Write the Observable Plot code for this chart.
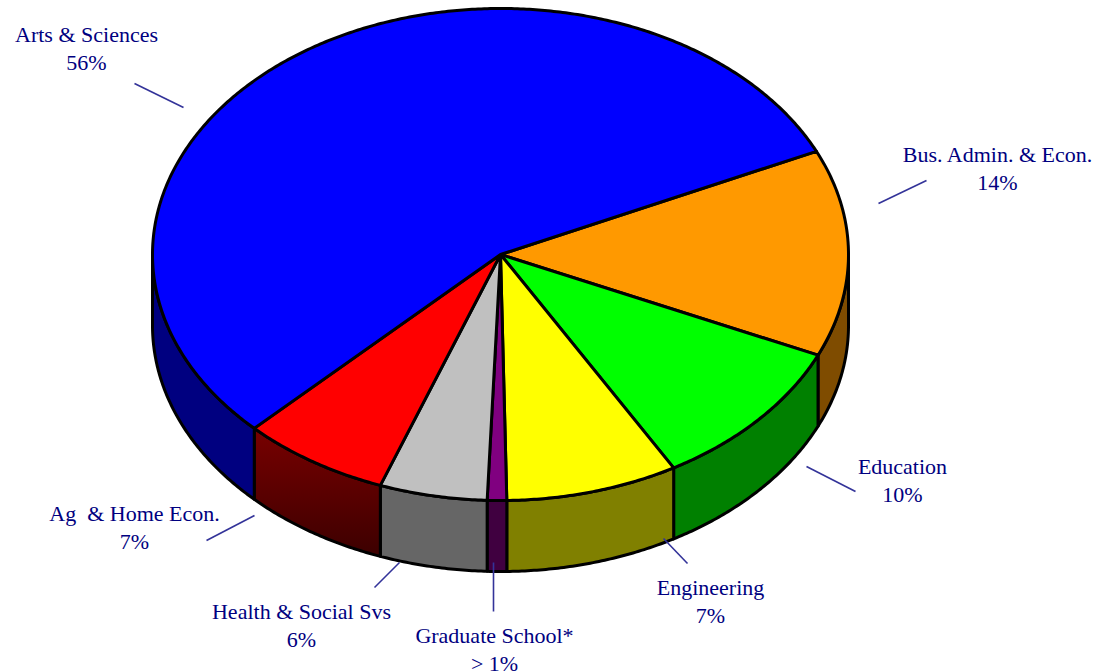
<!DOCTYPE html>
<html>
<head>
<meta charset="utf-8">
<script src="https://cdn.jsdelivr.net/npm/d3@7"></script>
<script src="https://cdn.jsdelivr.net/npm/@observablehq/plot@0.6"></script>
<style>
html,body{margin:0;padding:0;background:#fff;overflow:hidden}
svg{display:block}
</style>
</head>
<body>
<div id="chart"></div>
<script>
// Data, clockwise from the Arts / Business boundary
const categories = ["Bus. Admin. & Econ.", "Education", "Engineering", "Graduate School*", "Health & Social Svs", "Ag  & Home Econ.", "Arts & Sciences"];
const percentLabels = ["14%", "10%", "7%", "> 1%", "6%", "7%", "56%"];
const shares = [13.6, 10, 8, 0.9, 5, 6.9, 55.6];
const topColors = ["#ff9900", "#00ff00", "#ffff00", "#800080", "#c0c0c0", "#ff0000", "#0000ff"];
const sideColors = ["#7f4c00", "#008000", "#808000", "#400040", "#666666", "url(#agSide)", "#000080"];

// Layout of the disc and annotations (pixels of the frame)
const disc = {cx: 500, cy: 254, rx: 348, ry: 246, depth: 71, start: -24.8};
const labelX = [997, 902, 710, 494, 301, 134, 86];
const labelBaseline = [189, 501, 622, 670, 646, 548, 69];
const leaderX1 = [926, 806, 663, 493, 399, 254, 134];
const leaderY1 = [180, 466, 538, 562, 562, 515, 83];
const leaderX2 = [878, 855, 687, 493, 374, 206, 183];
const leaderY2 = [203, 491, 563, 611, 587, 540, 107];

const rad = Math.PI / 180;
const rimPoint = (t, drop = 0) => ({
  x: disc.cx + disc.rx * Math.cos(t * rad),
  y: disc.cy + disc.ry * Math.sin(t * rad) + drop
});
const arc = (a, b, drop = 0) => {
  const n = Math.max(2, Math.ceil(Math.abs(b - a) / 0.5));
  return d3.range(n + 1).map(i => rimPoint(a + (b - a) * i / n, drop));
};

let acc = disc.start;
const slices = shares.map((s, i) => {
  const a = acc; acc += s * 3.6;
  return {i, a, b: acc};
});

// side walls: only the part of each slice on the near half of the rim
const wallMarks = slices.flatMap(({i, a, b}) => {
  const lo = Math.max(a, 0), hi = Math.min(b, 180);
  if (hi <= lo) return [];
  const pts = [...arc(lo, hi), ...arc(hi, lo, disc.depth)];
  pts.push(pts[0]);
  return [Plot.line(pts, {x: "x", y: "y", fill: sideColors[i], stroke: "black", strokeWidth: 3})];
});

const topMarks = slices.map(({i, a, b}) => {
  const center = {x: disc.cx, y: disc.cy};
  const pts = [center, ...arc(a, b), center];
  return Plot.line(pts, {x: "x", y: "y", fill: topColors[i], stroke: "black", strokeWidth: 3});
});

const gradient = () => {
  const svgNS = "http://www.w3.org/2000/svg";
  const g = document.createElementNS(svgNS, "linearGradient");
  g.setAttribute("id", "agSide");
  g.setAttribute("x1", "0"); g.setAttribute("y1", "0");
  g.setAttribute("x2", "0"); g.setAttribute("y2", "1");
  [["0%", "#780000"], ["100%", "#3c0000"]].forEach(([o, c]) => {
    const s = document.createElementNS(svgNS, "stop");
    s.setAttribute("offset", o); s.setAttribute("stop-color", c);
    g.appendChild(s);
  });
  return g;
};

const rows = categories.map((name, i) => ({
  text: name + "\n" + percentLabels[i],
  x: labelX[i], y: labelBaseline[i],
  x1: leaderX1[i], y1: leaderY1[i], x2: leaderX2[i], y2: leaderY2[i]
}));

const chart = Plot.plot({
  width: 1110, height: 672,
  margin: 0,
  style: {background: "#fff"},
  x: {domain: [0, 1110], range: [0, 1110], axis: null},
  y: {domain: [0, 672], range: [0, 672], axis: null},
  marks: [
    gradient,
    ...wallMarks,
    ...topMarks,
    Plot.link(rows, {x1: "x1", y1: "y1", x2: "x2", y2: "y2", stroke: "#333399", strokeWidth: 1.6}),
    Plot.text(rows, {
      x: "x", y: "y", text: "text",
      fontFamily: "Liberation Serif", fontSize: 22, lineHeight: 1.27,
      lineAnchor: "bottom", textAnchor: "middle", fill: "#000080"
    })
  ]
});
document.getElementById("chart").appendChild(chart);
</script>
</body>
</html>
